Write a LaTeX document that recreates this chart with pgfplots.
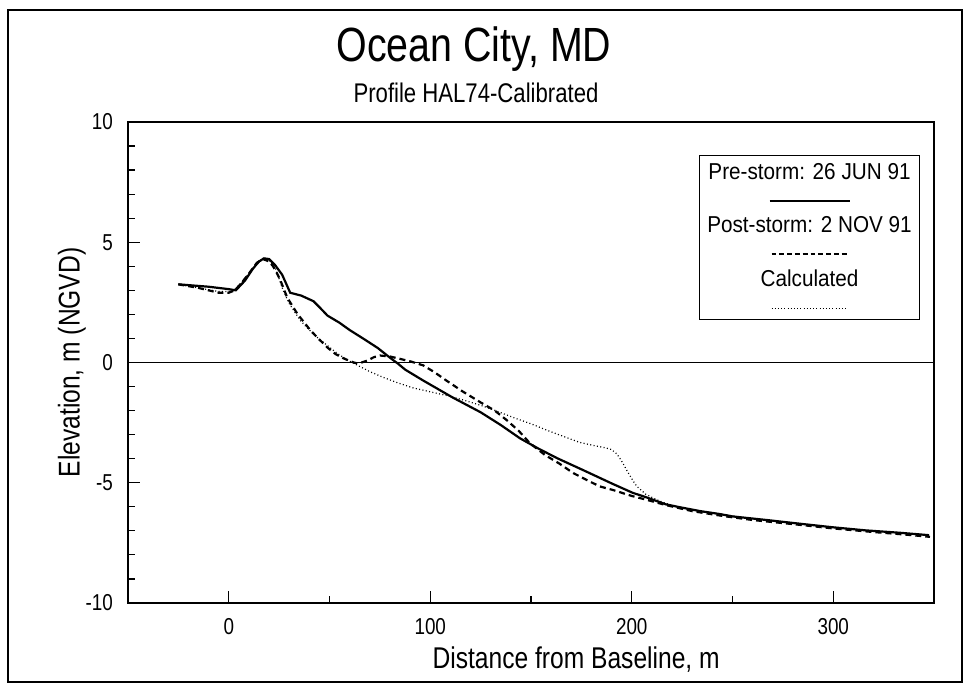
\documentclass[border=0pt]{standalone}
\usepackage{pgfplots}
\pgfplotsset{compat=1.18}
\usepackage{fontspec}
\setmainfont{Liberation Sans}
\newfontfamily\narrowsans{Liberation Sans}[FakeStretch=0.82]
\newfontfamily\legsans{Liberation Sans}[FakeStretch=0.9]
\begin{document}
\begin{tikzpicture}
\path[use as bounding box] (-64pt,-42.5pt) rectangle (420.5pt,301.5pt);
\draw[line width=0.7pt] (-60pt,-39.5pt) rectangle (417pt,296.5pt);
\node[font=\narrowsans\fontsize{24}{28}\selectfont] at (173pt,277pt) {Ocean City, MD};
\node[font=\narrowsans\fontsize{13.5}{16}\selectfont] at (174pt,255pt) {Profile HAL74-Calibrated};
\begin{axis}[
  at={(0pt,0pt)}, anchor=south west,
  scale only axis, width=403pt, height=240.5pt,
  xmin=-50, xmax=350, ymin=-10, ymax=10,
  xtick={0,100,200,300}, xticklabels={0,100,200,300},
  ytick={-10,-5,0,5,10}, yticklabels={-10,-5,0,5,10},
  minor x tick num=1, minor y tick num=4,
  tick align=inside, xtick pos=bottom, ytick pos=left,
  major tick length=6pt, minor tick length=3.5pt,
  every tick/.style={black, line width=0.6pt},
  axis line style={line width=0.7pt},
  tick label style={font=\narrowsans\fontsize{11.5}{13}\selectfont},
  xticklabel style={yshift=-4pt},
  yticklabel style={xshift=-4pt},
  xlabel={Distance from Baseline, m},
  ylabel={Elevation, m (NGVD)},
  label style={font=\narrowsans\fontsize{15}{18}\selectfont},
  xlabel style={at={(axis description cs:0.556,-0.118)}, anchor=center},
  ylabel style={at={(axis description cs:-0.0695,0.5)}, anchor=center},
  legend image code/.code={},
  legend cell align=center,
  legend style={at={(0.983,0.931)}, anchor=north east, draw=black, line width=0.6pt,
    font=\legsans\fontsize{11.5}{13}\selectfont, inner sep=2.5pt, row sep=3pt,
    nodes={align=center, inner sep=1.5pt}},
]
\addplot[black, line width=0.5pt, forget plot] coordinates {(-50,0) (350,0)};
\addplot[black, line width=1.1pt] coordinates {
(-25,3.25) (-10,3.15) (0,3.05) (3.5,3.0) (8,3.4) (12,3.9) (15,4.2) (17.5,4.33)
(20,4.3) (23,4.05) (26.5,3.65) (30.5,2.9) (36,2.78) (42,2.55) (45,2.3) (49,1.95)
(55,1.65) (60,1.35) (67,0.98) (74,0.6) (80,0.2) (84,-0.05) (87.6,-0.3) (96.5,-0.75)
(111,-1.45) (125,-2.07) (135,-2.6) (144.5,-3.15) (153,-3.55) (163,-3.98) (176,-4.48)
(190.6,-5.05) (200.5,-5.42) (207,-5.6) (217,-5.9) (224,-6.02) (234,-6.18) (243.6,-6.3)
(250,-6.4) (267,-6.55) (283,-6.7) (299.5,-6.85) (316,-6.98) (333,-7.08) (347.5,-7.18)
};
\addlegendentry{Pre-storm: 26 JUN 91\\[-2pt]\tikz\draw[line width=0.8pt] (0,0)--(40pt,0);}
\addplot[black, line width=1.1pt, dash pattern=on 3pt off 2pt] coordinates {
(-25,3.25) (-15,3.1) (-5,2.9) (0,2.9) (3,3.0) (6,3.27) (10,3.7) (14,4.15) (17,4.3)
(20,4.2) (22,4.0) (24,3.7) (25.7,3.4) (29,2.7) (34,2.03) (40.6,1.33) (45,0.95)
(49,0.62) (53,0.35) (57,0.17) (62,0.0) (64,-0.04) (66,0.0) (68.8,0.08) (72,0.22)
(75,0.29) (80,0.25) (84,0.17) (90,0.05) (96.5,-0.12) (102,-0.4) (108,-0.75)
(116,-1.2) (125,-1.66) (132,-2.0) (138,-2.4) (144,-2.85) (149.5,-3.36) (157,-3.85)
(164,-4.2) (171,-4.6) (178,-4.9) (184,-5.15) (190.6,-5.3) (200,-5.55) (207,-5.7)
(217,-5.93) (230,-6.18) (245,-6.38) (260,-6.55) (280,-6.72) (300,-6.9) (320,-7.05)
(335,-7.15) (348,-7.25)
};
\addlegendentry{Post-storm: 2 NOV 91\\[-2pt]\tikz\draw[line width=0.8pt, dash pattern=on 2.4pt off 1.5pt] (0,0)--(38pt,0);}
\addplot[black, line width=0.6pt, dash pattern=on 0.5pt off 1.2pt] coordinates {
(-25,3.25) (-15,3.1) (-5,2.95) (0,2.95) (3,3.05) (6,3.3) (10,3.7) (14,4.1) (17,4.3)
(20,4.25) (23,3.95) (27,3.0) (30,2.45) (35.6,1.74) (40,1.35) (44,1.04) (49,0.7)
(54,0.37) (59,0.1) (64,-0.12) (70,-0.38) (76.7,-0.62) (84,-0.85) (91.6,-1.06)
(100,-1.22) (108,-1.37) (116,-1.55) (125,-1.78) (133,-2.02) (141,-2.28) (150,-2.55)
(158,-2.82) (166,-3.07) (174,-3.32) (181,-3.45) (187,-3.55) (190,-3.62) (192.6,-3.8)
(195,-4.1) (197.5,-4.48) (200.5,-4.9) (202.5,-5.15) (207,-5.48) (211,-5.65) (215,-5.8)
(222,-6.0) (230,-6.15) (243.6,-6.3) (260,-6.5) (283,-6.7) (300,-6.85) (316,-6.98)
(333,-7.08) (347.5,-7.18)
};
\addlegendentry{Calculated\\[-2pt]\tikz\draw[line width=0.5pt, dash pattern=on 0.4pt off 1.2pt] (0,0)--(38pt,0);}
\end{axis}
\end{tikzpicture}
\end{document}
